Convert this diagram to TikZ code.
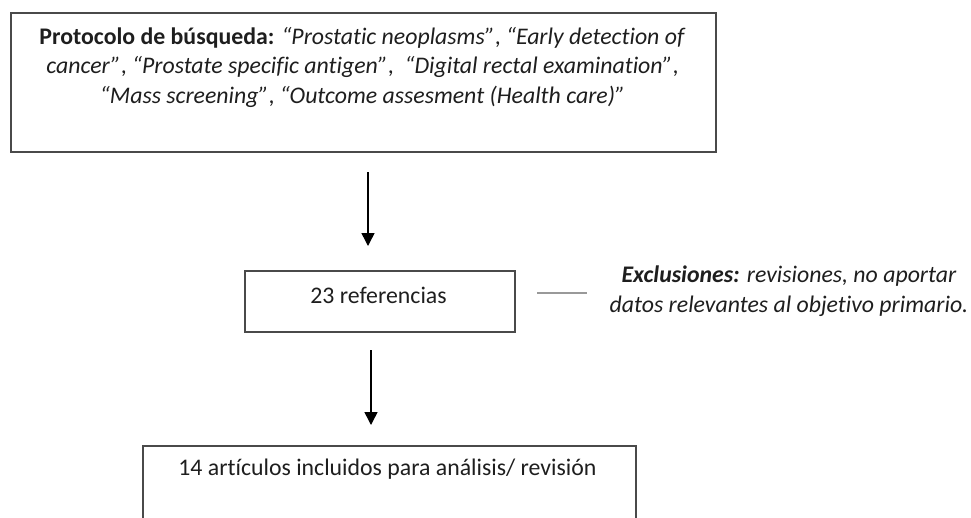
\documentclass[tikz,border=0pt]{standalone}
\usepackage{fontspec}
\setmainfont{Carlito}[Ligatures={NoCommon,NoRare,NoContextual}]
\usetikzlibrary{arrows.meta}
\definecolor{boxline}{HTML}{4A4A4A}
\definecolor{txt}{HTML}{1E1E1E}
\begin{document}
\begin{tikzpicture}[x=1pt,y=-1pt,
  boxstyle/.style={draw=boxline,line width=1.6pt,inner sep=0pt,anchor=north west},
  label/.style={text=txt,font=\fontsize{23.8}{29.5}\selectfont,inner sep=0pt,align=center},
  arr/.style={line width=1.5pt,-{Triangle[length=13pt,width=13pt]}},
  sideline/.style={draw=gray!80,line width=1.8pt}]
\useasboundingbox (0,0) rectangle (971,517);
\clip (0,0) rectangle (971,517);
% boxes
\node[boxstyle,minimum width=705pt,minimum height=139pt] (top) at (10,12) {};
\node[boxstyle,minimum width=270pt,minimum height=61pt] (refs) at (244,270) {};
\node[boxstyle,minimum width=493pt,minimum height=120pt] (incl) at (142,445) {};
% texts
\node[label] (toptext) at (362.5,67) {\textbf{Protocolo de búsqueda:} \textit{“Prostatic neoplasms”}, \textit{“Early detection of}\\
\textit{cancer”}, \textit{“Prostate specific antigen”},\ \ \textit{“Digital rectal examination”},\\
\textit{“Mass screening”}, \textit{“Outcome assesment (Health care)”}};
\node[label] (refstext) at (378.5,295) {23 referencias};
\node[label] (incltext) at (387.5,469) {14 artículos incluidos para análisis/ revisión};
\node[label] (excl) at (789,291) {\textbf{\textit{Exclusiones:}} \textit{revisiones, no aportar}\\
\textit{datos relevantes al objetivo primario.}};
% connectors
\coordinate (a1s) at (368,172);
\coordinate (a1e) at (368,246);
\coordinate (a2s) at (371,350);
\coordinate (a2e) at (371,425);
\draw[arr] (a1s) -- (a1e);
\draw[arr] (a2s) -- (a2e);
\coordinate (ls) at (537,293);
\coordinate (le) at (587,293);
\draw[sideline] (ls) -- (le);
\end{tikzpicture}
\end{document}
